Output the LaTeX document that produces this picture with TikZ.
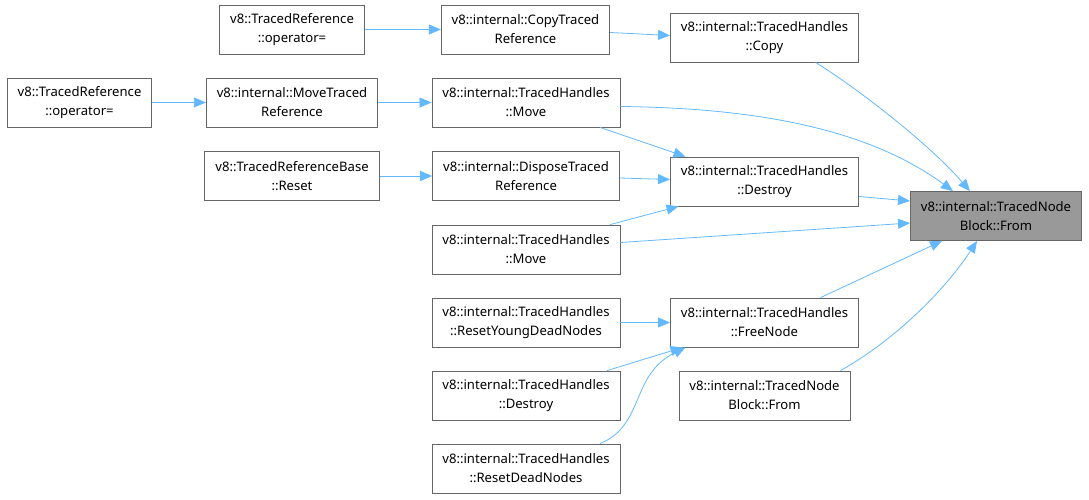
\documentclass[tikz,border=0pt]{standalone}
\usepackage{fontspec}
\setmainfont{Noto Sans}
\usetikzlibrary{arrows.meta}
\definecolor{edgeblue}{HTML}{63B8FF}
\definecolor{boxline}{HTML}{666666}
\definecolor{rootfill}{HTML}{999999}

\begin{document}
\begin{tikzpicture}[x=1pt, y=-1pt,
    box/.style={draw=boxline, fill=white, minimum height=49pt, inner xsep=10.5pt, align=center, font=\fontsize{13.1}{19}\selectfont, text=black, line width=0.8pt},
    arr/.style={-{Triangle[length=12pt, width=10pt]}, draw=edgeblue, line width=0.8pt},
]
\useasboundingbox (0,0) rectangle (1089,499);

\node[box] (refop1) at (292,29.5) {v8::TracedReference\\::operator=};
\node[box] (copyref) at (525.5,29.5) {v8::internal::CopyTraced\\Reference};
\node[box] (copy) at (764.5,37.5) {v8::internal::TracedHandles\\::Copy};
\node[box] (refop2) at (79.5,102.5) {v8::TracedReference\\::operator=};
\node[box] (moveref) at (292,102.5) {v8::internal::MoveTraced\\Reference};
\node[box] (move1) at (526,102.5) {v8::internal::TracedHandles\\::Move};
\node[box] (reset) at (292,176) {v8::TracedReferenceBase\\::Reset};
\node[box] (disposeref) at (526,176) {v8::internal::DisposeTraced\\Reference};
\node[box] (destroy1) at (764.5,181.5) {v8::internal::TracedHandles\\::Destroy};
\node[box, fill=rootfill] (from) at (996,216) {v8::internal::TracedNode\\Block::From};
\node[box] (move2) at (526,249.5) {v8::internal::TracedHandles\\::Move};
\node[box] (resetyoung) at (526,322.5) {v8::internal::TracedHandles\\::ResetYoungDeadNodes};
\node[box] (freenode) at (764.5,322.5) {v8::internal::TracedHandles\\::FreeNode};
\node[box] (destroy2) at (526,395.5) {v8::internal::TracedHandles\\::Destroy};
\node[box] (from2) at (764.5,395.5) {v8::internal::TracedNode\\Block::From};
\node[box] (resetdead) at (526,468.5) {v8::internal::TracedHandles\\::ResetDeadNodes};

% calls into TracedNodeBlock::From
\draw[arr] (refop1) -- (copyref);
\draw[arr] ([yshift=-3pt]copyref.east) -- ([yshift=2pt]copy.west);
\draw[arr] ([xshift=51pt]copy.south) .. controls (860,90) and (930,145) .. ([xshift=-26pt]from.north);
\draw[arr] (refop2) -- (moveref);
\draw[arr] (moveref) -- (move1);
\draw[arr] ([yshift=-4pt]move1.east) .. controls (760,108) and (870,130) .. ([xshift=-43pt]from.north);
\draw[arr] ([xshift=74pt]move1.south) -- ([xshift=-79pt]destroy1.north);
\draw[arr] (reset) -- (disposeref);
\draw[arr] ([yshift=-2pt]disposeref.east) -- ([yshift=2pt]destroy1.west);
\draw[arr] ([xshift=84pt]move2.north) -- ([xshift=-86pt]destroy1.south);
\draw[arr] ([yshift=7pt]move2.east) -- ([yshift=-7pt]from.west);
\draw[arr] ([yshift=-15pt]destroy1.east) -- ([yshift=15pt]from.west);
\draw[arr] ([xshift=56pt]freenode.north) -- ([xshift=-54pt]from.south);
\draw[arr] ([xshift=76pt]from2.north) .. controls (895,340) and (945,290) .. ([xshift=-19pt]from.south);

% calls into FreeNode
\draw[arr] (resetyoung) -- (freenode);
\draw[arr] ([xshift=81pt]destroy2.north) -- ([xshift=-82pt]freenode.south);
\draw[arr] ([xshift=74pt]resetdead.north) .. controls (645,425) and (630,375) .. ([xshift=-79pt]freenode.south);
\end{tikzpicture}
\end{document}
